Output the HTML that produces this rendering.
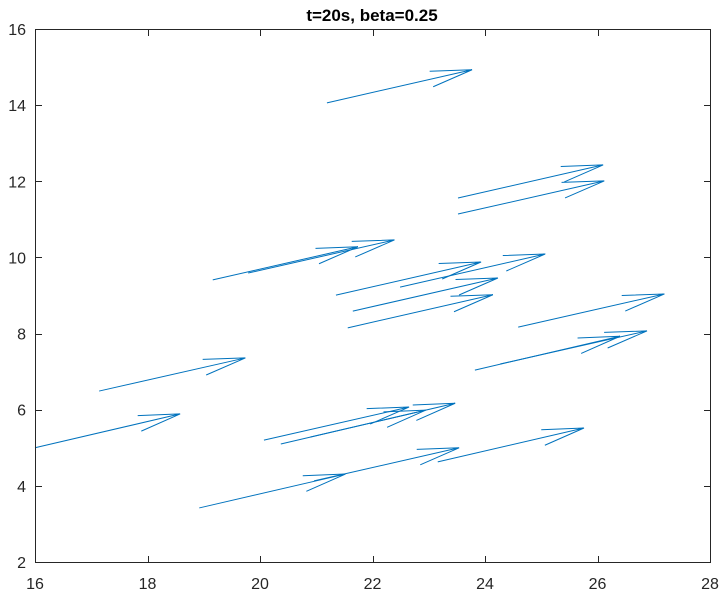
<!DOCTYPE html>
<html><head><meta charset="utf-8"><style>
html,body{margin:0;padding:0;background:#fff;}
svg{display:block;font-family:"Liberation Sans",Arial,sans-serif;}
</style></head><body>
<svg id="chart" width="723" height="595">
<rect x="0" y="0" width="723" height="595" fill="#fff"/>
<text x="372" y="21" text-anchor="middle" font-size="17" font-weight="bold" fill="#000">t=20s, beta=0.25</text>
<g id="axes"></g>
<g id="arrows"></g>
<rect x="35.5" y="29.5" width="675" height="533" fill="none" stroke="#262626" stroke-width="1"/>
</svg>
<script>
const xs=[21.19,23.52,23.52,19.16,19.79,21.35,22.49,21.65,21.56,24.59,23.82,24.27,17.14,16.00,20.07,20.37,20.89,18.92,20.96,23.16];
const ys=[14.06,11.56,11.14,9.41,9.59,9.01,9.22,8.59,8.15,8.17,7.04,7.20,6.49,5.00,5.20,5.10,5.28,3.42,4.13,4.63];
const us=[2.58,2.58,2.60,2.58,2.60,2.58,2.58,2.58,2.58,2.60,2.58,2.61,2.60,2.58,2.58,2.58,2.58,2.60,2.58,2.60];
const vs=[0.87,0.87,0.87,0.87,0.87,0.87,0.87,0.87,0.87,0.87,0.89,0.87,0.87,0.89,0.87,0.89,0.89,0.89,0.87,0.89];
const xTicks=[16,18,20,22,24,26,28];
const yTicks=[2,4,6,8,10,12,14,16];
const X0=35,X1=710,Y0=562,Y1=29;
const sx=v=>X0+(v-16)/(28-16)*(X1-X0);
const sy=v=>Y0-(v-2)/(16-2)*(Y0-Y1);
const NS="http://www.w3.org/2000/svg";
const axes=document.getElementById('axes');
const ag=document.getElementById('arrows');
function mk(t,a,p){const e=document.createElementNS(NS,t);for(const k in a)e.setAttribute(k,a[k]);p.appendChild(e);return e;}
xTicks.forEach(t=>{
  const x=Math.round(sx(t))+0.5;
  const l=mk('line',{x1:x,x2:x,y1:562,y2:556,stroke:'#262626'},axes);
  
  
  const l2=mk('line',{x1:x,x2:x,y1:30,y2:36,stroke:'#262626'},axes);
  
  
  const tx=mk('text',{x:sx(t),y:589,'text-anchor':'middle','font-size':'16',fill:'#262626'},axes);
  tx.textContent=t;
  
  
});
yTicks.forEach(t=>{
  const y=Math.round(sy(t))+0.5;
  const l=mk('line',{x1:36,x2:42,y1:y,y2:y,stroke:'#262626'},axes);
  
  
  const l2=mk('line',{x1:710,x2:704,y1:y,y2:y,stroke:'#262626'},axes);
  
  
  const tx=mk('text',{x:26,y:sy(t)+6,'text-anchor':'end','font-size':'16',fill:'#262626'},axes);
  tx.textContent=t;
  
  
});
xs.forEach((x,i)=>{
  const x1=sx(x),y1=sy(ys[i]),x2=sx(x+us[i]),y2=sy(ys[i]+vs[i]);
  const dx=x2-x1,dy=y2-y1,a=0.28,b=0.19;
  const b1x=x2-a*(dx+b*dy),b1y=y2-a*(dy-b*dx);
  const b2x=x2-a*(dx-b*dy),b2y=y2-a*(dy+b*dx);
  const p=mk('path',{d:`M${x1},${y1}L${x2},${y2}M${b1x},${b1y}L${x2},${y2}L${b2x},${b2y}`,fill:'none',stroke:'#0072BD','stroke-width':'1'},ag);
  
  
});
</script>
</body></html>
